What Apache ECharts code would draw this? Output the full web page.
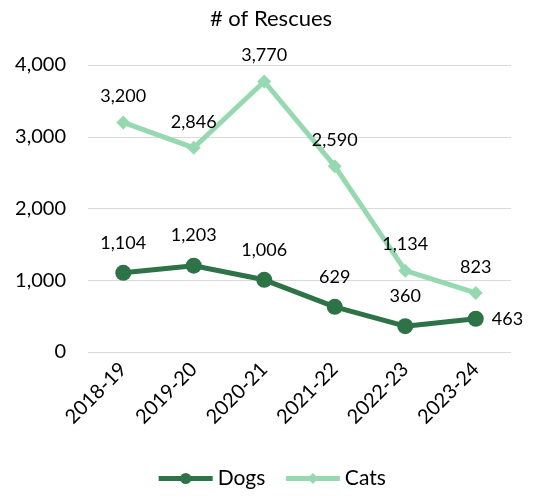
<!DOCTYPE html>
<html>
<head>
<meta charset="utf-8">
<script src="https://cdn.jsdelivr.net/npm/echarts@6/dist/echarts.min.js"></script>
<style>
  html, body { margin: 0; padding: 0; background: #fff; }
  #chart { width: 542px; height: 504px; }
</style>
</head>
<body>
<div id="chart"></div>
<script>
var years = ['2018-19', '2019-20', '2020-21', '2021-22', '2022-23', '2023-24'];
var dogs = [1104, 1203, 1006, 629, 360, 463];
var cats = [3200, 2846, 3770, 2590, 1134, 823];
var yTicks = [0, 1000, 2000, 3000, 4000];

var font = 'Lato, "Noto Sans", sans-serif';
var fmt = function (v) { return Number(v).toLocaleString('en-US'); };

// last dogs label sits to the right of its point
var dogsData = dogs.map(function (v, i) {
    return i === dogs.length - 1 ? { value: v, label: { position: 'right', distance: 8 } } : v;
});

var myChart = echarts.init(document.getElementById('chart'));
myChart.setOption({
    animation: false,
    title: {
        text: '# of Rescues',
        left: 'center',
        top: 3,
        textStyle: { fontFamily: font, fontSize: 22, fontWeight: 'normal', color: '#000' }
    },
    legend: {
        bottom: 10,
        left: 'center',
        itemWidth: 54,
        itemHeight: 14,
        itemGap: 18,
        lineStyle: { width: 5 },
        textStyle: { fontFamily: font, fontSize: 21, color: '#000' },
        data: ['Dogs', 'Cats']
    },
    grid: { left: 88, right: 31, top: 65, bottom: 152 },
    xAxis: {
        type: 'category',
        data: years,
        axisLine: { show: false },
        axisTick: { show: false },
        axisLabel: { rotate: 45, margin: 14, fontFamily: font, fontSize: 20, color: '#000' }
    },
    yAxis: {
        type: 'value',
        min: yTicks[0],
        max: yTicks[yTicks.length - 1],
        interval: 1000,
        axisLine: { show: false },
        axisTick: { show: false },
        splitLine: { lineStyle: { color: '#d9d9d9', width: 1 } },
        axisLabel: { margin: 22, fontFamily: font, fontSize: 20, color: '#000', formatter: fmt }
    },
    series: [
        {
            name: 'Dogs',
            type: 'line',
            data: dogsData,
            symbol: 'circle',
            symbolSize: 16,
            lineStyle: { color: '#2e7248', width: 5 },
            itemStyle: { color: '#2e7248' },
            label: {
                show: true,
                position: 'top',
                distance: 13,
                fontFamily: font,
                fontSize: 18,
                color: '#000',
                formatter: function (p) { return fmt(p.value); }
            }
        },
        {
            name: 'Cats',
            type: 'line',
            data: cats,
            symbol: 'diamond',
            symbolSize: 14,
            lineStyle: { color: '#96d9b0', width: 5 },
            itemStyle: { color: '#96d9b0' },
            label: {
                show: true,
                position: 'top',
                distance: 10,
                fontFamily: font,
                fontSize: 18,
                color: '#000',
                formatter: function (p) { return fmt(p.value); }
            }
        }
    ]
});
</script>
</body>
</html>
